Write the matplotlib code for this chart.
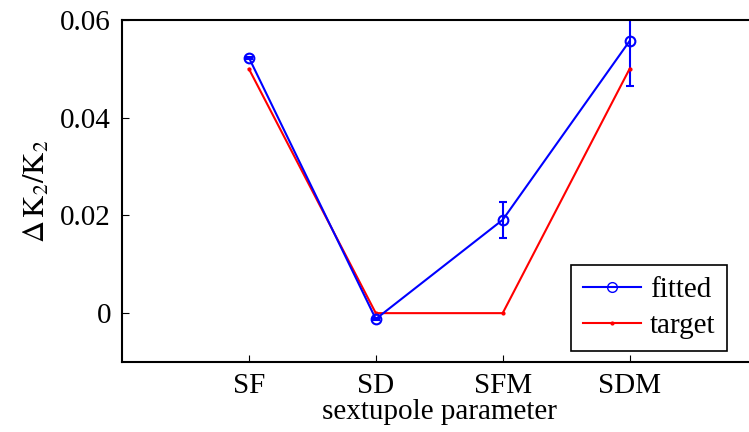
import matplotlib
matplotlib.use("Agg")
import matplotlib.pyplot as plt
from matplotlib.lines import Line2D
import numpy as np

categories = ["SF", "SD", "SFM", "SDM"]
fitted = [0.0523, -0.0012, 0.0191, 0.0557]
fitted_err = [0.0002, 0.0002, 0.0037, 0.0092]
target = [0.05, 0.0, 0.0, 0.05]

plt.rcParams['font.family'] = ['Liberation Serif', 'DejaVu Serif']
plt.rcParams['mathtext.fontset'] = 'stix'

fig = plt.figure(figsize=(7.49, 4.32), dpi=100)
ax_w = (749 - 122) / 749 + 0.01
ax = fig.add_axes([122/749, (432-362)/432, ax_w, (362-20)/432])

x = np.arange(1, len(categories) + 1)
ax.errorbar(x, fitted, yerr=fitted_err, color='#0000ff', marker='o', markersize=7,
            markerfacecolor='none', markeredgewidth=1.5, linewidth=1.5,
            capsize=3, capthick=1.5, elinewidth=1.5)
ax.plot(x, target, color='#ff0000', marker='.', markersize=4, linewidth=1.5)

ax.set_xlim(0, 5)
ax.set_ylim(-0.01, 0.06)
ax.set_xticks(x)
ax.set_xticklabels(categories)
ax.set_yticks([0, 0.02, 0.04, 0.06])
ax.set_yticklabels(['0', '0.02', '0.04', '0.06'])
ax.tick_params(direction='in', labelsize=21, length=5, width=0.8, pad=8)
ax.set_xlabel('sextupole parameter', fontsize=21, labelpad=0)
ax.set_ylabel(r'$\Delta\,\mathrm{K}_2/\mathrm{K}_2$', fontsize=22, labelpad=6)
for s in ax.spines.values():
    s.set_linewidth(1.5)

handles = [
    Line2D([], [], color='#0000ff', marker='o', markersize=7, markerfacecolor='none',
           markeredgewidth=1.0, linewidth=1.5),
    Line2D([], [], color='#ff0000', marker='.', markersize=4, linewidth=1.5),
]
ax_w_px = ax_w * 749
leg = ax.legend(handles, ['fitted', 'target'], loc='lower right',
                bbox_to_anchor=((727 - 122) / ax_w_px, (362 - 351) / 342), fontsize=21,
                fancybox=False, edgecolor='black', framealpha=1, handlelength=2.0,
                borderpad=0.4, labelspacing=0.35, handletextpad=0.3, borderaxespad=0)
leg.get_frame().set_linewidth(1.2)

fig.savefig('out.png', dpi=100)
